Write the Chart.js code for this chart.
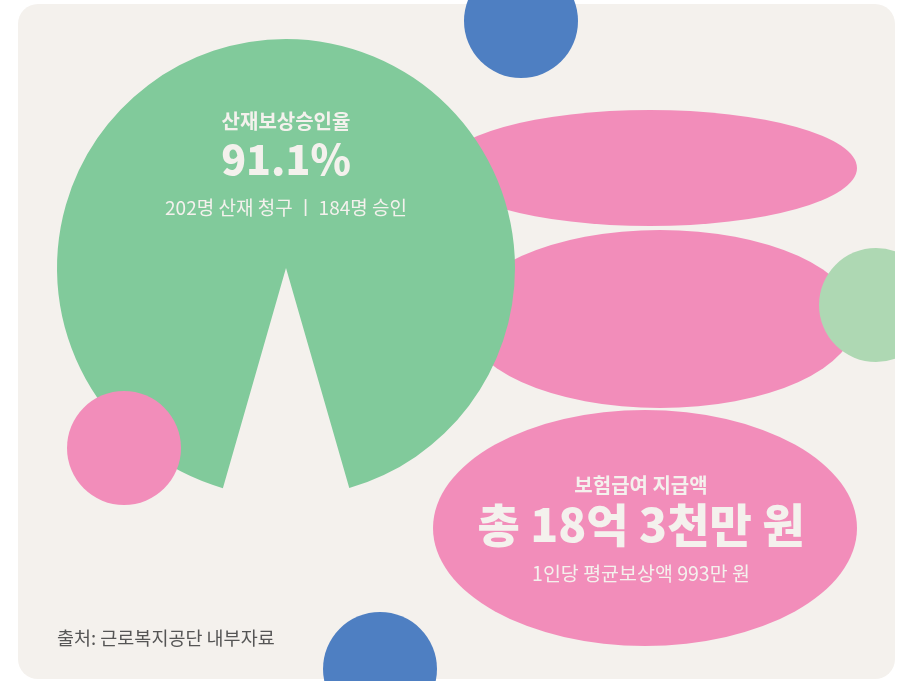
<!DOCTYPE html>
<html>
<head>
<meta charset="utf-8">
<script src="https://cdn.jsdelivr.net/npm/chart.js@4"></script>
<style>
  body { margin: 0; background: #ffffff; }
  canvas { display: block; }
</style>
</head>
<body>
<canvas id="myChart" width="904" height="681"></canvas>
<script>
// data
const categories = ['승인', '미승인'];
const claims = 202;
const approved = 184;
const shares = [91.1, 8.9];
const payoutTitle = '보험급여 지급액';
const payoutTotal = '총 18억 3천만 원';
const payoutAvg = '1인당 평균보상액 993만 원';
const source = '출처: 근로복지공단 내부자료';

const cream = '#F4F1ED';
const green = '#81CA9B';
const pink = '#F28DBA';
const blue = '#4E7FC2';
const mint = '#AED8B3';
const font = '"Noto Sans CJK KR", "Noto Sans", sans-serif';

// background shapes
const ellipses = [
  [650, 168, 207, 58],
  [660, 319, 196, 89],
  [645, 528, 212, 118]
];
const dots = [
  [521, 21, 57, blue],
  [124, 448, 57, pink],
  [876, 305, 57, mint],
  [380, 669, 57, blue]
];

const decor = {
  id: 'decor',
  beforeDatasetsDraw(chart) {
    const ctx = chart.ctx;
    ctx.save();
    ctx.fillStyle = cream;
    ctx.beginPath();
    ctx.roundRect(18, 4, 877, 675, 20);
    ctx.fill();
    ctx.fillStyle = pink;
    ellipses.forEach(e => {
      ctx.beginPath();
      ctx.ellipse(e[0], e[1], e[2], e[3], 0, 0, Math.PI * 2);
      ctx.fill();
    });
    ctx.restore();
  },
  afterDatasetsDraw(chart) {
    const ctx = chart.ctx;
    ctx.save();
    ctx.beginPath();
    ctx.rect(0, 0, 895, 681);
    ctx.clip();
    dots.forEach(d => {
      ctx.fillStyle = d[3];
      ctx.beginPath();
      ctx.arc(d[0], d[1], d[2], 0, Math.PI * 2);
      ctx.fill();
    });
    ctx.restore();

    const arc = chart.getDatasetMeta(0).data[0];
    const cx = arc.x;
    ctx.save();
    ctx.textAlign = 'center';
    ctx.textBaseline = 'middle';
    ctx.fillStyle = cream;
    ctx.font = 'bold 20px ' + font;
    ctx.fillText('산재보상승인율', cx, 121);
    ctx.font = '900 41px ' + font;
    ctx.fillText(chart.data.datasets[0].data[0] + '%', cx, 159);
    ctx.font = '19px ' + font;
    ctx.fillText(claims + '명 산재 청구 ㅣ ' + approved + '명 승인', cx, 208);

    ctx.font = 'bold 20px ' + font;
    ctx.fillText(payoutTitle, 641, 485);
    ctx.font = '900 46px ' + font;
    ctx.fillText(payoutTotal, 641, 525);
    ctx.font = '19.5px ' + font;
    ctx.fillText(payoutAvg, 641, 574);

    ctx.textAlign = 'left';
    ctx.fillStyle = '#555555';
    ctx.font = '18.5px ' + font;
    ctx.fillText(source, 57, 638);
    ctx.restore();
  }
};

new Chart(document.getElementById('myChart'), {
  type: 'pie',
  data: {
    labels: categories,
    datasets: [{
      data: shares,
      backgroundColor: [green, 'rgba(0,0,0,0)'],
      borderWidth: 0
    }]
  },
  options: {
    responsive: false,
    devicePixelRatio: 1,
    animation: false,
    rotation: 196,
    layout: { padding: { left: 57, right: 389, top: 39, bottom: 184 } },
    plugins: {
      legend: { display: false },
      tooltip: { enabled: false }
    }
  },
  plugins: [decor]
});
</script>
</body>
</html>
